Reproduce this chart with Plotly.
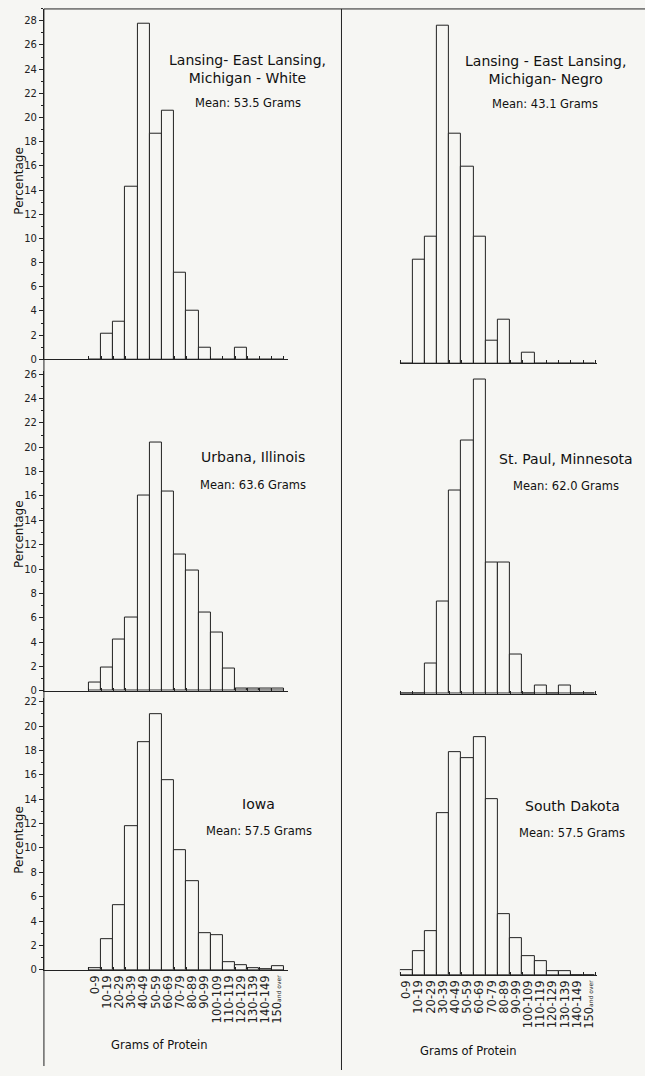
import plotly.graph_objects as go

W, H = 645, 1076
BG = "#f6f6f3"
INK = "#222222"
FONT = "DejaVu Sans"

categories = ["0-9", "10-19", "20-29", "30-39", "40-49", "50-59", "60-69", "70-79",
              "80-89", "90-99", "100-109", "110-119", "120-129", "130-139", "140-149",
              "150 and over"]
tick_text = categories[:-1] + ["150<span style='font-size:6px'>and over</span>"]

lansing_white = [0, 2.1, 3.1, 14.3, 27.8, 18.7, 20.6, 7.2, 4.0, 1.0, 0, 0, 1.0, 0, 0, 0]
lansing_negro = [0, 8.6, 10.5, 27.9, 19.0, 16.3, 10.5, 1.9, 3.6, 0, 0.9, 0, 0, 0, 0, 0]
urbana = [0.7, 1.9, 4.2, 6.0, 16.0, 20.4, 16.4, 11.2, 9.9, 6.4, 4.8, 1.8, 0.2, 0.2, 0.2, 0.2]
st_paul = [0, 0, 2.5, 7.6, 16.7, 20.8, 25.8, 10.8, 10.8, 3.2, 0, 0.7, 0, 0.7, 0, 0]
iowa = [0.1, 2.5, 5.3, 11.8, 18.7, 21.0, 15.6, 9.8, 7.3, 3.0, 2.8, 0.6, 0.4, 0.1, 0.05, 0.3]
south_dakota = [0.4, 1.9, 3.6, 13.3, 18.3, 17.8, 19.5, 14.4, 5.0, 3.0, 1.5, 1.1, 0.3, 0.3, 0, 0]

titles = [
    ("Lansing- East Lansing,<br>Michigan - White", "Mean: 53.5 Grams"),
    ("Lansing - East Lansing,<br>Michigan- Negro", "Mean: 43.1 Grams"),
    ("Urbana, Illinois", "Mean: 63.6 Grams"),
    ("St. Paul, Minnesota", "Mean: 62.0 Grams"),
    ("Iowa", "Mean: 57.5 Grams"),
    ("South Dakota", "Mean: 57.5 Grams"),
]

series = [lansing_white, lansing_negro, urbana, st_paul, iowa, south_dakota]

idx = list(range(len(categories)))
# (x0 px, x1 px, x range, baseline px, top of y range, px per unit, left column?, bottom row?)
panels = [
    (43, 287, [-4.19, 15.81], 360, 29.0, 12.18, True, False),
    (399.5, 596.5, [-0.54, 15.6], 364, 29.0, 12.18, False, False),
    (43, 287, [-4.19, 15.81], 694, 26.3, 12.27, True, False),
    (399.5, 596.5, [-0.54, 15.6], 697, 26.3, 12.27, False, False),
    (43, 287, [-4.19, 15.81], 975, 22.3, 12.27, True, True),
    (399.5, 596.5, [-0.54, 15.6], 980, 22.3, 12.27, False, True),
]

fig = go.Figure()
layout = {}
edges = [i - 0.5 for i in range(len(categories) + 1)]

for k, (vals, p) in enumerate(zip(series, panels)):
    x0, x1, xr, ybase, ytop, ppu, left, bottom = p
    n = "" if k == 0 else str(k + 1)
    fig.add_trace(go.Bar(
        x=idx, y=vals, xaxis="x" + n, yaxis="y" + n, width=1,
        marker=dict(color=BG, line=dict(color=INK, width=1)),
        showlegend=False, hoverinfo="skip"))
    top_px = ybase - ytop * ppu
    layout["xaxis" + n] = dict(
        domain=[x0 / W, x1 / W], range=xr, anchor="y" + n,
        showline=True, linecolor=INK, linewidth=1, showgrid=False, zeroline=False,
        tickmode="array", tickvals=idx, ticktext=tick_text, ticks="",
        showticklabels=bottom, tickangle=-90,
        tickfont=dict(family=FONT, size=11.5, color=INK),
        minor=dict(tickmode="array", tickvals=edges, ticks="inside", ticklen=3,
                   tickcolor=INK, tickwidth=1, showgrid=False),
    )
    layout["yaxis" + n] = dict(
        domain=[1 - ybase / H, 1 - top_px / H], range=[0, ytop], anchor="x" + n,
        visible=left, showline=True, linecolor=INK, linewidth=1,
        showgrid=False, zeroline=False, tick0=0, dtick=2,
        ticks="outside", ticklen=4, tickcolor=INK, tickwidth=1,
        minor=dict(dtick=1, ticks="outside", ticklen=2, tickcolor=INK, showgrid=False),
        tickfont=dict(family=FONT, size=10, color=INK),
    )

annotations = []
title_pos = [(247, 68, 102), (545, 69, 103), (252, 458, 487),
             (566, 460, 488), (258, 808, 835), (572, 810, 837)]
for (t, m), (cx, ty, my) in zip(titles, title_pos):
    annotations.append(dict(text=t, x=cx / W, y=1 - ty / H, xref="paper", yref="paper",
                            showarrow=False, xanchor="center", yanchor="middle",
                            font=dict(family=FONT, size=14, color="#111111")))
    annotations.append(dict(text=m, x=cx / W, y=1 - my / H, xref="paper", yref="paper",
                            showarrow=False, xanchor="center", yanchor="middle",
                            font=dict(family=FONT, size=11.5, color="#111111")))
for cy in (180, 536, 844):
    annotations.append(dict(text="Percentage", x=18 / W, y=1 - cy / H, xref="paper",
                            yref="paper", showarrow=False, textangle=-90,
                            xanchor="center", yanchor="middle",
                            font=dict(family=FONT, size=12, color="#111111")))
for cx, cy in ((159, 1051), (468, 1057)):
    annotations.append(dict(text="Grams of Protein", x=cx / W, y=1 - cy / H, xref="paper",
                            yref="paper", showarrow=False, xanchor="center",
                            yanchor="middle",
                            font=dict(family=FONT, size=11.5, color="#111111")))

shapes = [
    dict(type="line", xref="paper", yref="paper", x0=43 / W, x1=1, y0=1 - 7 / H, y1=1 - 7 / H,
         line=dict(color=INK, width=1)),
    dict(type="line", xref="paper", yref="paper", x0=43 / W, x1=43 / W, y0=1 - 7 / H,
         y1=1 - 1072 / H, line=dict(color=INK, width=1)),
    dict(type="line", xref="paper", yref="paper", x0=341 / W, x1=341 / W, y0=1 - 7 / H,
         y1=0, line=dict(color=INK, width=1)),
]

fig.update_layout(
    width=W, height=H, margin=dict(l=0, r=0, t=0, b=0),
    paper_bgcolor=BG, plot_bgcolor="rgba(0,0,0,0)",
    bargap=0, annotations=annotations, shapes=shapes,
    font=dict(family=FONT, color=INK),
    **layout,
)

fig.write_html("out.html")
